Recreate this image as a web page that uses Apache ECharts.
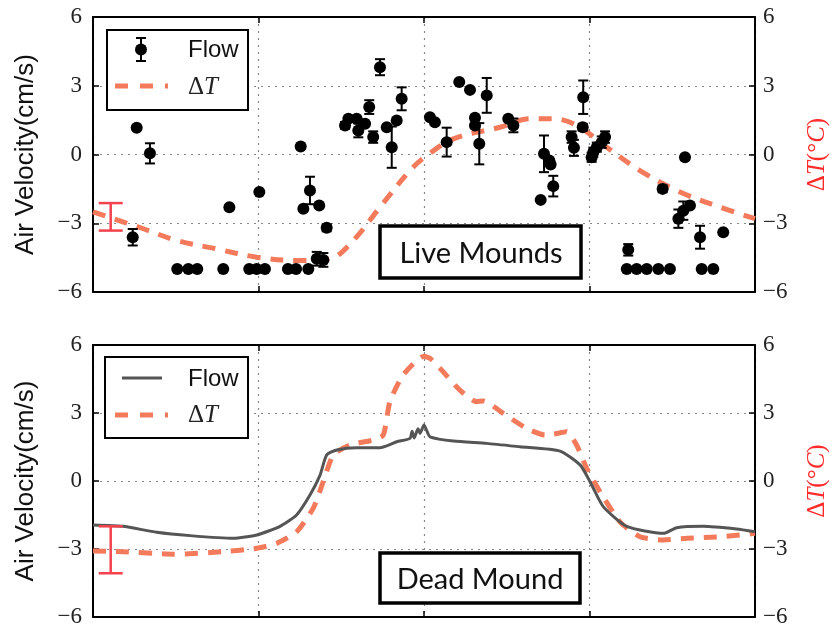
<!DOCTYPE html>
<html><head><meta charset="utf-8">
<script src="https://cdn.jsdelivr.net/npm/echarts@6/dist/echarts.min.js"></script>
<style>html,body{margin:0;padding:0;background:#fff}#c{width:834px;height:628px}</style>
</head><body><div id="c"></div>
<script>
// ---- Top panel: Live Mounds ----
const flowX = [0.24,0.264,0.344,0.509,0.576,0.630,0.787,0.824,0.944,0.989,1.005,1.039,1.178,1.227,1.255,1.271,1.301,1.311,1.352,1.367,1.392,1.412,1.523,1.543,1.593,1.603,1.644,1.669,1.693,1.734,1.775,1.805,1.835,1.865,2.036,2.066,2.137,2.213,2.278,2.308,2.308,2.334,2.379,2.509,2.540,2.705,2.725,2.757,2.765,2.781,2.892,2.906,2.959,2.962,3.013,3.023,3.044,3.074,3.094,3.225,3.234,3.285,3.346,3.416,3.442,3.486,3.537,3.567,3.577,3.607,3.668,3.678,3.748,3.808];
const flowY = [-3.61,1.17,0.05,-5,-5,-5,-5,-2.3,-5,-5,-1.64,-5,-5,-5,0.35,-2.37,-5,-1.57,-4.55,-2.23,-4.6,-3.2,1.27,1.56,1.56,1.05,1.34,2.07,0.76,3.81,1.19,0.32,1.48,2.43,1.63,1.41,0.54,3.16,2.82,1.6,1.27,0.47,2.58,1.56,1.27,-1.98,0.03,-0.26,-0.44,-1.38,0.76,0.29,1.19,2.5,-0.12,0.1,0.32,0.54,0.76,-5,-4.16,-5,-5,-5,-1.5,-5,-2.8,-2.45,-0.12,-2.23,-3.61,-5,-5,-3.39];
const flowErr = [0.36,0.08,0.44,0,0,0,0,0,0,0,0,0,0,0,0,0,0,0.6,0.3,0,0.3,0.15,0.15,0,0,0.3,0,0.3,0.25,0.35,0,0.9,0,0.5,0,0,0.63,0,0,0,0,0.9,0.76,0,0.3,0,0.8,0,0,0.45,0.25,0.35,0.15,0.73,0.2,0.2,0.2,0.25,0.25,0,0.25,0,0,0,0.15,0,0.4,0.4,0.1,0,0.5,0,0,0];
const liveTX = [0,0.304,0.506,0.747,0.989,1.251,1.432,1.573,1.734,1.915,2.016,2.177,2.459,2.64,2.781,2.923,3.104,3.305,3.547,3.789,4.0];
const liveTY = [-2.5,-3.24,-3.75,-4.12,-4.48,-4.63,-4.55,-3.75,-2.3,-0.7,-0.05,0.68,1.19,1.56,1.56,1.27,0.32,-0.7,-1.64,-2.3,-2.8];
const liveTErr = [0.107,-2.12,-3.32];
// ---- Bottom panel: Dead Mound ----
const deadFX = [0,0.18,0.385,0.586,0.848,0.99,1.13,1.23,1.311,1.372,1.412,1.473,1.593,1.734,1.835,1.915,1.928,1.94,1.964,1.976,2.0,2.018,2.036,2.177,2.379,2.58,2.822,2.943,3.003,3.083,3.225,3.446,3.527,3.688,3.889,4.0];
const deadFY = [-1.94,-2.0,-2.26,-2.41,-2.53,-2.38,-2.0,-1.5,-0.62,0.26,1.15,1.37,1.47,1.47,1.73,1.88,2.2,1.9,2.3,2.1,2.47,2.2,1.95,1.76,1.66,1.51,1.32,0.71,-0.03,-1.13,-2.0,-2.31,-2.06,-2.0,-2.12,-2.24];
const deadTX = [0,0.18,0.485,0.787,0.99,1.11,1.23,1.331,1.391,1.452,1.553,1.694,1.754,1.794,1.874,2.0,2.036,2.097,2.217,2.318,2.358,2.479,2.62,2.731,2.781,2.862,2.922,2.983,3.063,3.184,3.305,3.446,3.588,3.789,4.0];
const deadTY = [-3.09,-3.12,-3.23,-3.12,-2.97,-2.75,-2.24,-1.2,-0.03,1.15,1.59,1.81,2.03,3.5,4.68,5.5,5.41,4.97,4.01,3.5,3.53,2.98,2.32,2.03,2.06,2.17,1.59,0.56,-0.47,-1.8,-2.46,-2.6,-2.53,-2.46,-2.31];
const deadTErr = [0.107,-2.0,-4.07];
const yTicks = [-6,-3,0,3,6];

const SERIF = '"Liberation Serif", "Times New Roman", "DejaVu Serif", serif';
const SANS = '"Liberation Sans", Arial, Helvetica, sans-serif';
const zip = (a,b)=>a.map((v,i)=>[v,b[i]]);
const TCOL = '#f47a5c', ECOL = '#f4434f';
const chart = echarts.init(document.getElementById('c'));

function xAx(g,pos,split){return {gridIndex:g,type:'value',min:0,max:4,interval:1,position:pos,
  axisLine:{show:true,onZero:false,lineStyle:{color:'#000',width:2}},
  axisTick:{show:true,inside:true,length:6,lineStyle:{color:'#000',width:1.5}},
  axisLabel:{show:false},
  splitLine:{show:split,lineStyle:{type:[2,5],color:'#888',width:1.2}}};}
function yAx(g,pos,split){
  const left = pos==='left';
  return {gridIndex:g,type:'value',min:-6,max:6,interval:3,position:pos,
  axisLine:{show:true,onZero:false,lineStyle:{color:'#000',width:2}},
  axisTick:{show:true,inside:true,length:6,lineStyle:{color:'#000',width:1.5}},
  axisLabel:{show:true,margin:left?11:8,color:'#222',fontFamily:SERIF,fontSize:23,
    formatter:v=>String(v).replace('-','\u2212')},
  splitLine:{show:split,lineStyle:{type:[2,5],color:'#888',width:1.2}},
  name: left ? 'Air Velocity(cm/s)' : '{n|\u0394}{i|T}{n|(\u00b0}{i|C}{n|)}',
  nameLocation:'middle', nameRotate:90, nameGap: left?54:50,
  nameTextStyle: left ? {fontFamily:SANS,fontSize:26,color:'#111'} :
    {rich:{n:{fontFamily:SERIF,fontSize:25,color:'#ff2a2a'},i:{fontFamily:SERIF,fontStyle:'italic',fontSize:25,color:'#ff2a2a'}}}
  };}

function errRender(color,lw,cap){
  return function(params,api){
    const x=api.value(0), lo=api.value(1), hi=api.value(2);
    if (lo===hi) return;
    const p1=api.coord([x,lo]), p2=api.coord([x,hi]);
    const st={stroke:color,lineWidth:lw};
    return {type:'group',children:[
      {type:'line',shape:{x1:p1[0],y1:p1[1],x2:p2[0],y2:p2[1]},style:st},
      {type:'line',shape:{x1:p1[0]-cap,y1:p1[1],x2:p1[0]+cap,y2:p1[1]},style:st},
      {type:'line',shape:{x1:p2[0]-cap,y1:p2[1],x2:p2[0]+cap,y2:p2[1]},style:st}]};
  };
}
const flowErrData = flowX.map((x,i)=>[x,flowY[i]-flowErr[i],flowY[i]+flowErr[i]]).filter(d=>d[1]!==d[2]);

const dash = {type:[13,10],width:5,color:TCOL};
const legendBox = (x,y,w,h)=>({type:'rect',shape:{x:x,y:y,width:w,height:h},style:{fill:'#fff',stroke:'#000',lineWidth:2},z:100});
const txt = (x,y,t,font)=>({type:'text',x:x,y:y,style:{text:t,font:font,fill:'#111',textVerticalAlign:'middle'},z:101});
const dT = (x,y)=>({type:'text',x:x,y:y,style:{rich:{n:{fontFamily:SERIF,fontSize:25,fill:'#222'},i:{fontFamily:SERIF,fontStyle:'italic',fontSize:25,fill:'#222'}},text:'{n|\u0394}{i|T}',textVerticalAlign:'middle'},z:101});

chart.setOption({
  animation:false,
  grid:[{left:93,top:17,width:662,height:275,containLabel:false,outerBoundsMode:'none'},
        {left:93,top:345,width:662,height:272,containLabel:false,outerBoundsMode:'none'}],
  xAxis:[xAx(0,'bottom',true),xAx(0,'top',false),xAx(1,'bottom',true),xAx(1,'top',false)],
  yAxis:[yAx(0,'left',true),yAx(0,'right',false),yAx(1,'left',true),yAx(1,'right',false)],
  series:[
    {type:'line',xAxisIndex:0,yAxisIndex:1,data:zip(liveTX,liveTY),smooth:0.35,showSymbol:false,lineStyle:dash,z:2},
    {type:'custom',xAxisIndex:0,yAxisIndex:1,data:[liveTErr],renderItem:errRender(ECOL,2.5,12),z:3},
    {type:'custom',xAxisIndex:0,yAxisIndex:0,data:flowErrData,renderItem:errRender('#000',2,5),z:4},
    {type:'scatter',xAxisIndex:0,yAxisIndex:0,data:zip(flowX,flowY),symbolSize:12,itemStyle:{color:'#000',opacity:1},z:5},
    {type:'line',xAxisIndex:2,yAxisIndex:3,data:zip(deadTX,deadTY),smooth:0.2,showSymbol:false,lineStyle:dash,z:2},
    {type:'line',xAxisIndex:2,yAxisIndex:2,data:zip(deadFX,deadFY),smooth:0.2,showSymbol:false,lineStyle:{color:'#555',width:3},z:3},
    {type:'custom',xAxisIndex:2,yAxisIndex:3,data:[deadTErr],renderItem:errRender(ECOL,2.5,12),z:4}
  ],
  graphic:[
    legendBox(107,30,141,80),
    {type:'line',shape:{x1:141,y1:38,x2:141,y2:61},style:{stroke:'#000',lineWidth:2},z:102},
    {type:'line',shape:{x1:136,y1:38,x2:146,y2:38},style:{stroke:'#000',lineWidth:2},z:102},
    {type:'line',shape:{x1:136,y1:61,x2:146,y2:61},style:{stroke:'#000',lineWidth:2},z:102},
    {type:'circle',shape:{cx:141,cy:49.5,r:6},style:{fill:'#000'},z:103},
    txt(188,50,'Flow','24px '+SANS),
    {type:'line',shape:{x1:115,y1:86,x2:168,y2:86},style:{stroke:TCOL,lineWidth:5,lineDash:[13,12]},z:102},
    dT(188,87),
    legendBox(105,357,143,81),
    {type:'line',shape:{x1:122,y1:378,x2:162,y2:378},style:{stroke:'#555',lineWidth:3},z:102},
    txt(188,379,'Flow','24px '+SANS),
    {type:'line',shape:{x1:115,y1:415,x2:168,y2:415},style:{stroke:TCOL,lineWidth:5,lineDash:[13,12]},z:102},
    dT(188,415),
    {type:'rect',shape:{x:380,y:226,width:201,height:52},style:{fill:'#fff',stroke:'#000',lineWidth:3.5},z:100},
    {type:'text',x:481,y:254,style:{text:'Live Mounds',font:'29px Lato, "Open Sans", sans-serif',fill:'#111',textAlign:'center',textVerticalAlign:'middle'},z:101},
    {type:'rect',shape:{x:380,y:553,width:200,height:50},style:{fill:'#fff',stroke:'#000',lineWidth:3.5},z:100},
    {type:'text',x:480,y:580,style:{text:'Dead Mound',font:'29px Lato, "Open Sans", sans-serif',fill:'#111',textAlign:'center',textVerticalAlign:'middle'},z:101}
  ]
});
</script></body></html>
